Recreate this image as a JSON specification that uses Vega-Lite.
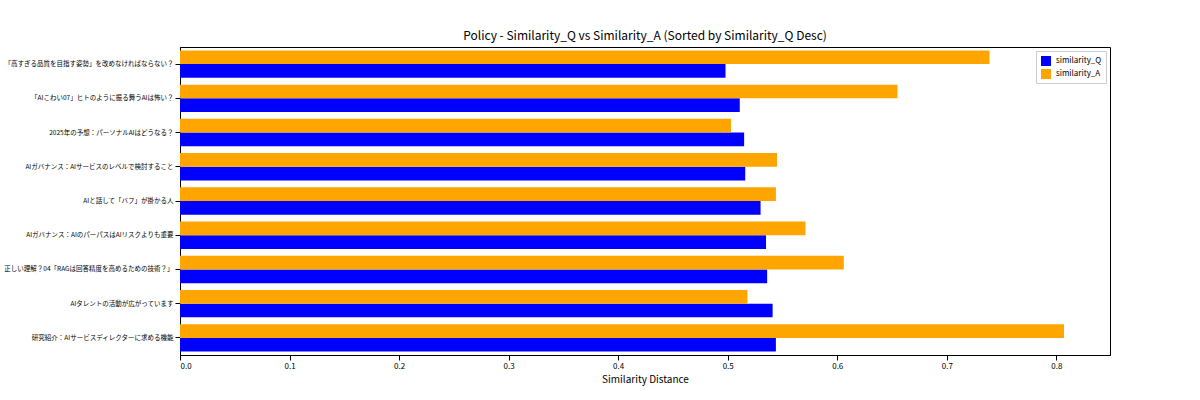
{
"$schema":"https://vega.github.io/schema/vega-lite/v6.json",
"width":930,"height":308,
"padding":{"left":3,"top":30,"right":120,"bottom":10},
"title":{"text":"Policy - Similarity_Q vs Similarity_A (Sorted by Similarity_Q Desc)","font":"Noto Sans CJK JP","fontSize":12,"fontWeight":"normal","color":"#000","offset":4},
"config":{"font":"Noto Sans CJK JP","view":{"stroke":"#000"},"axis":{"grid":false,"domainColor":"#000","tickColor":"#000","labelColor":"#000","titleColor":"#000","labelFontSize":8,"titleFontWeight":"normal"}},
"data":{"values":[
{"t":"「高すぎる品質を目指す姿勢」を改めなければならない？","o":1,"s":"similarity_Q","v":0.498},
{"t":"「高すぎる品質を目指す姿勢」を改めなければならない？","o":1,"s":"similarity_A","v":0.739},
{"t":"「AIこわい07」ヒトのように振る舞うAIは怖い？","o":2,"s":"similarity_Q","v":0.511},
{"t":"「AIこわい07」ヒトのように振る舞うAIは怖い？","o":2,"s":"similarity_A","v":0.655},
{"t":"2025年の予想：パーソナルAIはどうなる？","o":3,"s":"similarity_Q","v":0.515},
{"t":"2025年の予想：パーソナルAIはどうなる？","o":3,"s":"similarity_A","v":0.503},
{"t":"AIガバナンス：AIサービスのレベルで検討すること","o":4,"s":"similarity_Q","v":0.516},
{"t":"AIガバナンス：AIサービスのレベルで検討すること","o":4,"s":"similarity_A","v":0.545},
{"t":"AIと話して「バフ」が掛かる人","o":5,"s":"similarity_Q","v":0.530},
{"t":"AIと話して「バフ」が掛かる人","o":5,"s":"similarity_A","v":0.544},
{"t":"AIガバナンス：AIのパーパスはAIリスクよりも重要","o":6,"s":"similarity_Q","v":0.535},
{"t":"AIガバナンス：AIのパーパスはAIリスクよりも重要","o":6,"s":"similarity_A","v":0.571},
{"t":"正しい理解？04「RAGは回答精度を高めるための技術？」","o":7,"s":"similarity_Q","v":0.536},
{"t":"正しい理解？04「RAGは回答精度を高めるための技術？」","o":7,"s":"similarity_A","v":0.606},
{"t":"AIタレントの活動が広がっています","o":8,"s":"similarity_Q","v":0.541},
{"t":"AIタレントの活動が広がっています","o":8,"s":"similarity_A","v":0.518},
{"t":"研究紹介：AIサービスディレクターに求める機能","o":9,"s":"similarity_Q","v":0.544},
{"t":"研究紹介：AIサービスディレクターに求める機能","o":9,"s":"similarity_A","v":0.807}
]},
"mark":{"type":"bar"},
"encoding":{
"y":{"field":"t","type":"nominal","sort":{"field":"o"},"title":null,"scale":{"paddingInner":0.2,"paddingOuter":0.1},"axis":{"labelLimit":300,"labelFontSize":6.5}},
"yOffset":{"field":"s","type":"nominal","sort":["similarity_A","similarity_Q"]},
"x":{"field":"v","type":"quantitative","title":"Similarity Distance","scale":{"domain":[0,0.849],"nice":false},"axis":{"values":[0,0.1,0.2,0.3,0.4,0.5,0.6,0.7,0.8],"format":".1f","labelFontSize":8,"titleFontSize":10}},
"color":{"field":"s","type":"nominal","scale":{"domain":["similarity_Q","similarity_A"],"range":["#0000ff","#ffa500"]},"legend":{"title":null,"orient":"top-right","offset":4,"symbolType":"square","fillColor":"white","strokeColor":"#ccc","padding":4,"labelFontSize":8}}
}
}
